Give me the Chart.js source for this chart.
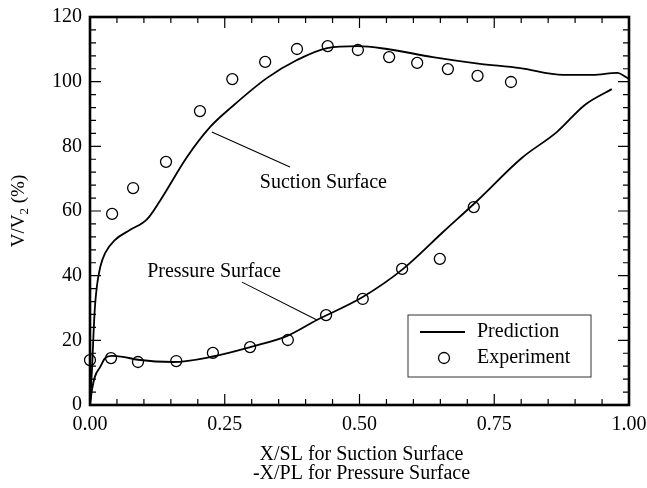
<!DOCTYPE html>
<html>
<head>
<meta charset="utf-8">
<script src="https://cdn.jsdelivr.net/npm/chart.js@4"></script>
<style>
  html, body { margin: 0; padding: 0; background: #fff; }
  #wrap { width: 647px; height: 488px; }
</style>
</head>
<body>
<div id="wrap"><canvas id="velChart"></canvas></div>
<script>
// prediction curves
const suctionPredX = [0, 0.004, 0.006, 0.009, 0.013, 0.019, 0.028, 0.046, 0.074, 0.106, 0.130, 0.180, 0.223, 0.263, 0.328, 0.384, 0.440, 0.497, 0.551, 0.636, 0.720, 0.798, 0.878, 0.933, 0.978, 1.0];
const suctionPredY = [0, 12, 20, 30, 37, 42.7, 47, 51, 54.1, 57.5, 63.2, 76.7, 86.0, 92.2, 101.1, 106.7, 110.4, 111.0, 110.1, 107.6, 105.6, 104.2, 102.1, 102.1, 102.7, 100.8];
const pressurePredX = [0, 0.004, 0.009, 0.019, 0.028, 0.040, 0.061, 0.089, 0.154, 0.228, 0.297, 0.365, 0.421, 0.506, 0.581, 0.655, 0.718, 0.801, 0.866, 0.918, 0.968];
const pressurePredY = [0, 5, 8.7, 11.8, 14.5, 15.2, 14.9, 14.0, 13.3, 15.0, 17.9, 21.3, 26.3, 33.4, 42.1, 53.5, 63.1, 76.4, 84.4, 92.8, 97.7];

// experiment points
const suctionExpX = [0.041, 0.080, 0.141, 0.204, 0.264, 0.325, 0.384, 0.441, 0.497, 0.555, 0.607, 0.664, 0.719, 0.781];
const suctionExpY = [59.1, 67.1, 75.2, 90.9, 100.8, 106.1, 110.1, 111.0, 109.8, 107.6, 105.8, 103.9, 101.8, 99.9];
const pressureExpX = [0.0, 0.039, 0.089, 0.160, 0.228, 0.297, 0.367, 0.438, 0.506, 0.579, 0.649, 0.712];
const pressureExpY = [13.9, 14.5, 13.3, 13.6, 16.1, 17.9, 20.1, 27.8, 32.8, 42.1, 45.2, 61.2];

const xTicks = [0, 0.25, 0.5, 0.75, 1.0];
const yTicks = [0, 20, 40, 60, 80, 100, 120];

const FONT = "'Liberation Serif', 'Times New Roman', serif";

function pts(xs, ys) {
    return xs.map((x, i) => ({ x: x, y: ys[i] }));
}

const lineStyle = {
    showLine: true,
    borderColor: "#000",
    borderWidth: 1.8,
    pointRadius: 0,
    cubicInterpolationMode: "monotone",
    fill: false,
};
const pointStyle = {
    showLine: false,
    borderColor: "#000",
    backgroundColor: "rgba(0,0,0,0)",
    borderWidth: 1.3,
    pointRadius: 5.5,
    clip: false,
};

// inward ticks, frame, labels and legend
const decor = {
    id: "decor",
    afterDraw(chart) {
        const ctx = chart.ctx;
        const a = chart.chartArea;
        const xs = chart.scales.x, ys = chart.scales.y;
        ctx.save();
        ctx.strokeStyle = "#000";

        // minor + major ticks on all sides
        ctx.lineWidth = 1.2;
        for (let i = 0; i <= 20; i++) {
            const px = xs.getPixelForValue(i * 0.05);
            const len = i % 5 === 0 ? 11 : 6;
            ctx.beginPath();
            ctx.moveTo(px, a.bottom); ctx.lineTo(px, a.bottom - len);
            ctx.moveTo(px, a.top); ctx.lineTo(px, a.top + len);
            ctx.stroke();
        }
        for (let i = 0; i <= 30; i++) {
            const py = ys.getPixelForValue(i * 4);
            const len = i % 5 === 0 ? 11 : 6;
            ctx.beginPath();
            ctx.moveTo(a.left, py); ctx.lineTo(a.left + len, py);
            ctx.moveTo(a.right, py); ctx.lineTo(a.right - len, py);
            ctx.stroke();
        }

        // frame
        ctx.lineWidth = 2.6;
        ctx.strokeRect(a.left, a.top, a.right - a.left, a.bottom - a.top);

        // annotation labels with leader lines
        ctx.fillStyle = "#000";
        ctx.font = "20px " + FONT;
        ctx.textBaseline = "middle";
        ctx.textAlign = "left";
        ctx.fillText("Suction Surface", xs.getPixelForValue(0.315), ys.getPixelForValue(68.7));
        ctx.fillText("Pressure Surface", xs.getPixelForValue(0.106), ys.getPixelForValue(41.1));
        ctx.lineWidth = 1.1;
        ctx.beginPath();
        ctx.moveTo(xs.getPixelForValue(0.226), ys.getPixelForValue(84.4));
        ctx.lineTo(xs.getPixelForValue(0.371), ys.getPixelForValue(73.6));
        ctx.moveTo(xs.getPixelForValue(0.282), ys.getPixelForValue(38.0));
        ctx.lineTo(xs.getPixelForValue(0.421), ys.getPixelForValue(26.3));
        ctx.stroke();

        // legend box
        const lx = a.right - 221, ly = a.bottom - 90;
        ctx.lineWidth = 1;
        ctx.strokeStyle = "#333";
        ctx.strokeRect(lx, ly, 183, 62);
        ctx.strokeStyle = "#000";
        ctx.lineWidth = 1.8;
        ctx.beginPath();
        ctx.moveTo(lx + 12, ly + 17); ctx.lineTo(lx + 57, ly + 17);
        ctx.stroke();
        ctx.lineWidth = 1.3;
        ctx.beginPath();
        ctx.arc(lx + 36, ly + 43, 5.5, 0, Math.PI * 2);
        ctx.stroke();
        ctx.font = "20px " + FONT;
        ctx.fillText("Prediction", lx + 69, ly + 17);
        ctx.fillText("Experiment", lx + 69, ly + 43);

        // x axis title (two lines)
        ctx.textAlign = "center";
        const cx = (a.left + a.right) / 2 + 2;
        ctx.fillText("X/SL for Suction Surface", cx, 455);
        ctx.fillText("-X/PL for Pressure Surface", cx, 474);

        // y axis title with subscript
        ctx.translate(19, 211);
        ctx.rotate(-Math.PI / 2);
        ctx.textAlign = "left";
        const p1 = "V/V", p2 = "2", p3 = " (%)";
        ctx.font = "19px " + FONT;
        const w1 = ctx.measureText(p1).width;
        const w3 = ctx.measureText(p3).width;
        ctx.font = "13px " + FONT;
        const w2 = ctx.measureText(p2).width;
        let sx = -(w1 + w2 + w3) / 2;
        ctx.font = "19px " + FONT;
        ctx.fillText(p1, sx, 0);
        ctx.font = "13px " + FONT;
        ctx.fillText(p2, sx + w1, 6);
        ctx.font = "19px " + FONT;
        ctx.fillText(p3, sx + w1 + w2, 0);
        ctx.restore();
    },
};

new Chart(document.getElementById("velChart"), {
    type: "scatter",
    data: {
        datasets: [
            { label: "Prediction", data: pts(suctionPredX, suctionPredY), ...lineStyle },
            { label: "Prediction", data: pts(pressurePredX, pressurePredY), ...lineStyle },
            { label: "Experiment", data: pts(suctionExpX, suctionExpY), ...pointStyle },
            { label: "Experiment", data: pts(pressureExpX, pressureExpY), ...pointStyle },
        ],
    },
    options: {
        responsive: true,
        maintainAspectRatio: false,
        animation: false,
        events: [],
        layout: { padding: { left: 0, right: 18, top: 17, bottom: 0 } },
        plugins: { legend: { display: false }, tooltip: { enabled: false } },
        scales: {
            x: {
                type: "linear",
                min: 0,
                max: 1,
                afterBuildTicks: (s) => { s.ticks = xTicks.map((v) => ({ value: v })); },
                afterFit: (s) => { s.height = 83; s.paddingLeft = 0; s.paddingRight = 0; },
                grid: { display: false, drawTicks: false },
                border: { display: false },
                ticks: {
                    padding: 8,
                    color: "#000",
                    font: { family: FONT, size: 20 },
                    maxRotation: 0,
                    callback: (v) => Number(v).toFixed(2),
                },
            },
            y: {
                type: "linear",
                min: 0,
                max: 120,
                afterBuildTicks: (s) => { s.ticks = yTicks.map((v) => ({ value: v })); },
                afterFit: (s) => { s.width = 90; s.paddingTop = 0; s.paddingBottom = 0; },
                grid: { display: false, drawTicks: false },
                border: { display: false },
                ticks: {
                    padding: 8,
                    color: "#000",
                    font: { family: FONT, size: 20 },
                },
            },
        },
    },
    plugins: [decor],
});
</script>
</body>
</html>
